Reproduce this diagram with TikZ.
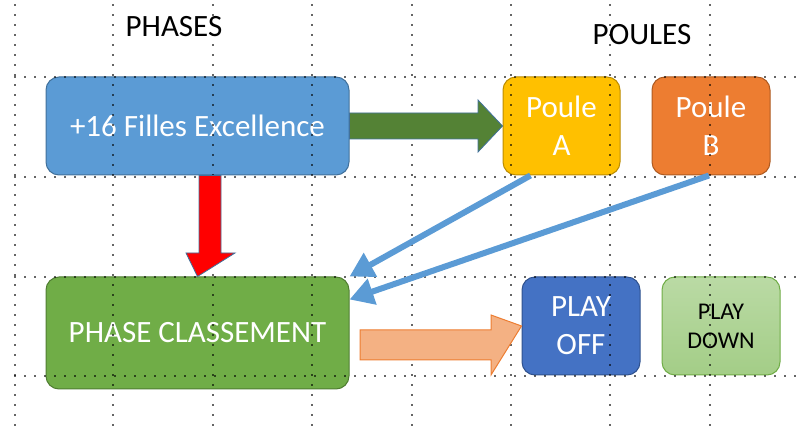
\documentclass[tikz,border=0pt]{standalone}
\usepackage{fontspec}
\setmainfont{Carlito}
\usetikzlibrary{arrows.meta,calc}
\definecolor{cblue}{HTML}{5B9BD5}
\definecolor{cblueD}{HTML}{41719C}
\definecolor{cgold}{HTML}{FFC000}
\definecolor{cgoldD}{HTML}{BC8C00}
\definecolor{corange}{HTML}{ED7D31}
\definecolor{corangeD}{HTML}{AE5A21}
\definecolor{cgreen}{HTML}{70AD47}
\definecolor{cgreenD}{HTML}{507E32}
\definecolor{cdkgreen}{HTML}{548235}
\definecolor{cnavy}{HTML}{4472C4}
\definecolor{cnavyD}{HTML}{2F528F}
\definecolor{clgreen}{HTML}{A9D18E}
\definecolor{csalmon}{HTML}{F4B183}
\tikzset{
  box/.style={draw, line width=1pt, rounded corners=13pt, align=center, text=white,
    font=\fontsize{31}{38}\selectfont, inner sep=0pt},
  gridline/.style={black, opacity=0.6, line width=1.3pt, dash pattern=on 1.3pt off 8.7pt},
  link/.style={cblue, line width=6pt, -{Triangle[length=24pt,width=26pt]}},
  title/.style={font=\fontsize{31}{36}\selectfont, text=black, inner sep=0pt}
}
\begin{document}
\begin{tikzpicture}[x=1pt,y=-1pt]
\useasboundingbox (0,0) rectangle (796,427);
% boxes
\node[box, fill=cblue, draw=cblueD, minimum width=303pt, minimum height=98pt] (excel) at (197.5,126) {+16 Filles Excellence};
\node[box, fill=cgold, draw=cgoldD, minimum width=117pt, minimum height=98pt] (pA) at (561.5,126) {Poule\\A};
\node[box, fill=corange, draw=corangeD, minimum width=118pt, minimum height=98pt] (pB) at (711,126) {Poule\\B};
\node[box, fill=cgreen, draw=cgreenD, minimum width=303pt, minimum height=112pt] (classement) at (197.5,333) {PHASE CLASSEMENT};
\node[box, fill=cnavy, draw=cnavyD, minimum width=118pt, minimum height=98pt] (playoff) at (581,326) {PLAY\\OFF};
\node[box, top color=clgreen!80!white, bottom color=clgreen!90!cgreen, draw=cgreen, text=black,
  font=\fontsize{24}{29}\selectfont, minimum width=118pt, minimum height=98pt] (playdown) at (721,326) {PLAY\\DOWN};
% titles
\node[title] (phases) at (174,27) {PHASES};
\node[title] (poules) at (642,35) {POULES};
% grid
\foreach \gx in {15,113,213,312,412,511,610,710}
  \draw[gridline] (\gx,4.4) -- (\gx,427);
\foreach \gy in {77,177,277,376}
  \draw[gridline] (14.4,\gy) -- (796,\gy);
% block arrows
\draw[fill=cdkgreen, draw=cblueD, line width=0.8pt]
  (excel.east |- 0,113) -- (478,113) -- (478,100) -- (pA.west) -- (478,152) -- (478,139) -- (excel.east |- 0,139) -- cycle;
\draw[fill=red, draw=cblueD, line width=0.8pt]
  (excel.south -| 199,0) -- (199,253) -- (186,253) -- (classement.north) -- (235,253) -- (221,253) -- (excel.south -| 221,0) -- cycle;
\draw[fill=csalmon, draw=corange, line width=1pt]
  (360,330) -- (491,330) -- (491,315) -- (playoff.west) -- (491,375) -- (491,360) -- (360,360) -- cycle;
% links
\draw[link] ([xshift=-31pt]pA.south) -- (classement.north east);
\draw[link] ([xshift=-2pt]pB.south) -- ([yshift=-23pt]classement.north east);
\end{tikzpicture}
\end{document}
